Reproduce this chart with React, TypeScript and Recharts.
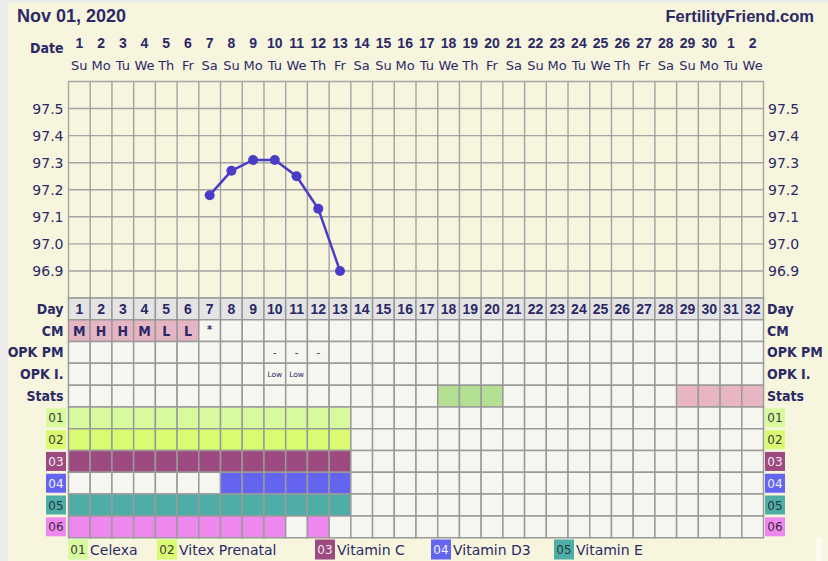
import { ComposedChart, LineChart, Line, XAxis, YAxis, ReferenceLine, ReferenceArea } from "recharts";

const NAVY = "#2a2966";
const CREAM = "#f7f5de";
const GRID = "#a3a3a3";
const CELL_LINE = "#9a9a9a";
const REG = "'DejaVu Sans', Verdana, sans-serif";
const BOLD = "'Liberation Sans', Arial, sans-serif";
const COND = "'DejaVu Sans Condensed', 'DejaVu Sans', sans-serif";

const cycleDays = [1, 2, 3, 4, 5, 6, 7, 8, 9, 10, 11, 12, 13, 14, 15, 16, 17, 18, 19, 20, 21, 22, 23, 24, 25, 26, 27, 28, 29, 30, 31, 32];
const dateLabels = ["1", "2", "3", "4", "5", "6", "7", "8", "9", "10", "11", "12", "13", "14", "15", "16", "17", "18", "19", "20", "21", "22", "23", "24", "25", "26", "27", "28", "29", "30", "1", "2"];
const weekdays = ["Su", "Mo", "Tu", "We", "Th", "Fr", "Sa", "Su", "Mo", "Tu", "We", "Th", "Fr", "Sa", "Su", "Mo", "Tu", "We", "Th", "Fr", "Sa", "Su", "Mo", "Tu", "We", "Th", "Fr", "Sa", "Su", "Mo", "Tu", "We"];
const temps: (number | null)[] = [null, null, null, null, null, null, 97.18, 97.27, 97.31, 97.31, 97.25, 97.13, 96.9, null, null, null, null, null, null, null, null, null, null, null, null, null, null, null, null, null, null, null];
const tempTicks = [96.9, 97.0, 97.1, 97.2, 97.3, 97.4, 97.5];
const tempGridLines = [96.8, 96.9, 97.0, 97.1, 97.2, 97.3, 97.4, 97.5, 97.6];

const rowLabels = ["Day", "CM", "OPK PM", "OPK I.", "Stats", "01", "02", "03", "04", "05", "06"];
const cmByDay: Record<number, string> = { 1: "M", 2: "H", 3: "H", 4: "M", 5: "L", 6: "L", 7: "*" };
const opkPmByDay: Record<number, string> = { 10: "-", 11: "-", 12: "-" };
const opkIByDay: Record<number, string> = { 10: "Low", 11: "Low" };
const statsGreenDays = [18, 19, 20];
const statsPinkDays = [29, 30, 31, 32];

const medCodes = ["01", "02", "03", "04", "05", "06"];
const medNames = ["Celexa", "Vitex Prenatal", "Vitamin C", "Vitamin D3", "Vitamin E"];
const medColors = ["#d8fa9f", "#d9fb72", "#9c4a80", "#6464f0", "#4fada8", "#ee88ef"];
const medTextColors = ["#3b3b3b", "#3b3b3b", "#f3e9f0", "#f2f2ff", "#263838", "#3b2b3b"];
const medDays = [
  [1, 2, 3, 4, 5, 6, 7, 8, 9, 10, 11, 12, 13],
  [1, 2, 3, 4, 5, 6, 7, 8, 9, 10, 11, 12, 13],
  [1, 2, 3, 4, 5, 6, 7, 8, 9, 10, 11, 12, 13],
  [8, 9, 10, 11, 12, 13],
  [1, 2, 3, 4, 5, 6, 7, 8, 9, 10, 11, 12, 13],
  [1, 2, 3, 4, 5, 6, 7, 8, 9, 10, 12],
];
const legendX = [68, 157, 315, 431, 554];

const tempData = cycleDays.map((d, i) => ({ day: d, temp: temps[i] }));
const dayBoundaries = [0, ...cycleDays].map((d) => d + 0.5);
const rowTicks = rowLabels.map((_, i) => i + 0.5);

function DateTick({ x, y, payload }: any) {
  const i = payload.value - 1;
  return (
    <g>
      <text x={x} y={y - 34} textAnchor="middle" fontFamily={BOLD} fontWeight="bold" fontSize={14} fill={NAVY}>
        {dateLabels[i]}
      </text>
      <text x={x} y={y - 11.5} textAnchor="middle" fontFamily={REG} fontSize={13} fill={NAVY}>
        {weekdays[i]}
      </text>
    </g>
  );
}

function RowTick({ x, y, payload, side }: any) {
  const r = Math.floor(payload.value);
  const label = rowLabels[r];
  if (r < 5) {
    return (
      <text x={x} y={y + 5} textAnchor={side === "left" ? "end" : "start"} fontFamily={COND} fontWeight="bold" fontSize={14} fill={NAVY}>
        {label}
      </text>
    );
  }
  const m = r - 5;
  const bx = side === "left" ? x - 17.5 : x - 2;
  return (
    <g>
      <rect x={bx} y={y - 9.5} width={20} height={19} fill={medColors[m]} />
      <text x={bx + 10} y={y + 4.5} textAnchor="middle" fontFamily={REG} fontSize={12} fill={medTextColors[m]}>
        {label}
      </text>
    </g>
  );
}

function cellStyle(row: number, day: number) {
  let fill = "#f6f6f1";
  let text = "";
  let font: any = { fontFamily: BOLD, fontWeight: "bold", fontSize: 14 };
  if (row === 0) {
    fill = "#e4e4e4";
    text = String(day);
  } else if (row === 1) {
    const v = cmByDay[day];
    if (v) {
      text = v;
      if (v !== "*") fill = "#e6b5c4";
      font = { fontFamily: COND, fontWeight: "bold", fontSize: v === "*" ? 11 : 14, dy: v === "*" ? -2 : 0 };
    }
  } else if (row === 2) {
    if (opkPmByDay[day]) {
      text = opkPmByDay[day];
      font = { fontFamily: REG, fontSize: 10 };
    }
  } else if (row === 3) {
    if (opkIByDay[day]) {
      text = opkIByDay[day];
      font = { fontFamily: REG, fontSize: 7.5 };
    }
  } else if (row === 4) {
    if (statsGreenDays.includes(day)) fill = "#b3e191";
    if (statsPinkDays.includes(day)) fill = "#e8b6c3";
  } else {
    const m = row - 5;
    if (medDays[m].includes(day)) fill = medColors[m];
  }
  return { fill, text, font };
}

function TempChart() {
  return (
    <LineChart width={828} height={300} data={tempData} margin={{ top: 8.5, right: 14.5, bottom: 2, left: 8.5 }}>
      <XAxis
        dataKey="day"
        type="number"
        domain={[0.5, 32.5]}
        ticks={cycleDays}
        interval={0}
        orientation="top"
        height={73}
        axisLine={false}
        tickLine={false}
        tickSize={0}
        tickMargin={0}
        tick={<DateTick />}
        allowDataOverflow
      />
      <YAxis
        type="number"
        domain={[96.8, 97.6]}
        ticks={tempTicks}
        interval={0}
        width={60}
        axisLine={false}
        tickLine={false}
        tickSize={0}
        tickMargin={5}
        tickFormatter={(v: number) => v.toFixed(1)}
        tick={{ fill: NAVY, fontSize: 14, fontFamily: REG }}
        allowDataOverflow
      />
      <YAxis
        yAxisId="r"
        orientation="right"
        type="number"
        domain={[96.8, 97.6]}
        ticks={tempTicks}
        interval={0}
        width={50}
        axisLine={false}
        tickLine={false}
        tickSize={0}
        tickMargin={4.5}
        tickFormatter={(v: number) => v.toFixed(1)}
        tick={{ fill: NAVY, fontSize: 14, fontFamily: REG, textAnchor: "start" }}
        allowDataOverflow
      />
      {tempGridLines.map((t) => (
        <ReferenceLine key={"h" + t} y={t} stroke={GRID} strokeWidth={1.4} />
      ))}
      {dayBoundaries.map((b) => (
        <ReferenceLine key={"v" + b} x={b} stroke={GRID} strokeWidth={1.4} />
      ))}
      <Line
        dataKey="temp"
        type="linear"
        stroke="#4a3cc6"
        strokeWidth={2.5}
        dot={{ r: 5, fill: "#4a3cc6", stroke: "#4a3cc6", strokeWidth: 0 }}
        activeDot={false}
        connectNulls={false}
        isAnimationActive={false}
      />
    </LineChart>
  );
}

function GridChart() {
  const areas: any[] = [];
  rowLabels.forEach((_, row) => {
    cycleDays.forEach((day) => {
      const { fill, text, font } = cellStyle(row, day);
      areas.push(
        <ReferenceArea
          key={row + "-" + day}
          x1={day - 0.5}
          x2={day + 0.5}
          y1={row}
          y2={row + 1}
          fill={fill}
          fillOpacity={1}
          stroke={CELL_LINE}
          strokeWidth={1.5}
          label={text ? { value: text, position: "center", fill: NAVY, ...font } : undefined}
          ifOverflow="visible"
        />
      );
    });
  });
  return (
    <ComposedChart width={828} height={250} data={tempData} margin={{ top: 8, right: 14.5, bottom: 2.3, left: 8.5 }}>
      <XAxis dataKey="day" type="number" domain={[0.5, 32.5]} hide allowDataOverflow />
      <YAxis
        type="number"
        domain={[0, 11]}
        reversed
        ticks={rowTicks}
        interval={0}
        width={60}
        axisLine={false}
        tickLine={false}
        tickSize={0}
        tickMargin={5}
        tick={<RowTick side="left" />}
        allowDataOverflow
      />
      <YAxis
        yAxisId="r"
        orientation="right"
        type="number"
        domain={[0, 11]}
        reversed
        ticks={rowTicks}
        interval={0}
        width={50}
        axisLine={false}
        tickLine={false}
        tickSize={0}
        tickMargin={3.5}
        tick={<RowTick side="right" />}
        allowDataOverflow
      />
      {areas}
    </ComposedChart>
  );
}

export default function App() {
  return (
    <div style={{ position: "relative", width: 828, height: 561, background: "#ececec", overflow: "hidden" }}>
      <style>{`body{margin:0}`}</style>
      <div style={{ position: "absolute", left: 8, top: 3, right: 0, bottom: 0, background: CREAM }} />
      <div style={{ position: "absolute", left: 816, top: 537, width: 6, height: 30, borderRadius: 3, background: "#fbfbf4" }} />
      <div style={{ position: "absolute", left: 0, top: 0 }}>
        <TempChart />
      </div>
      <div style={{ position: "absolute", left: 0, top: 290 }}>
        <GridChart />
      </div>
      <svg width={828} height={561} style={{ position: "absolute", left: 0, top: 0, pointerEvents: "none" }}>
        <text x={17} y={21.7} fontFamily={BOLD} fontWeight="bold" fontSize={18} fill={NAVY}>
          Nov 01, 2020
        </text>
        <text x={814} y={21.7} textAnchor="end" fontFamily={BOLD} fontWeight="bold" fontSize={16.5} fill={NAVY}>
          FertilityFriend.com
        </text>
        <text x={63.5} y={52.5} textAnchor="end" fontFamily={COND} fontWeight="bold" fontSize={14} fill={NAVY}>
          Date
        </text>
        {medNames.map((name, i) => (
          <g key={name}>
            <rect x={legendX[i]} y={539.5} width={20} height={20} fill={medColors[i]} />
            <text x={legendX[i] + 10} y={554} textAnchor="middle" fontFamily={REG} fontSize={12} fill={medTextColors[i]}>
              {medCodes[i]}
            </text>
            <text x={legendX[i] + 22} y={554.5} fontFamily={REG} fontSize={14} fill={NAVY}>
              {name}
            </text>
          </g>
        ))}
      </svg>
    </div>
  );
}
